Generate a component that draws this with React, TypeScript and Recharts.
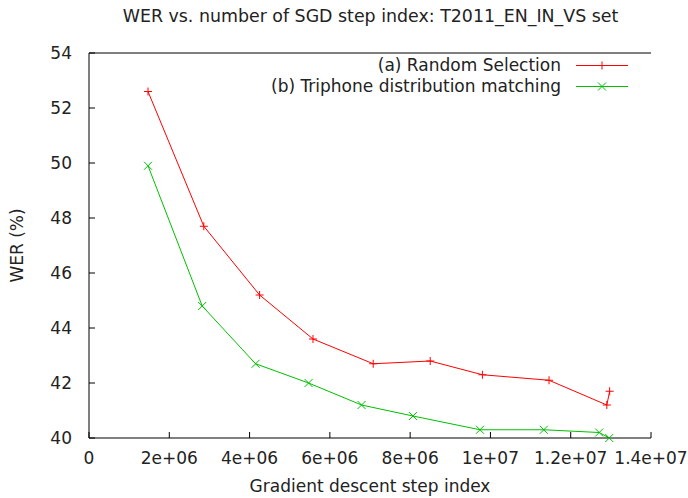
import React from 'react';
import { LineChart, Line, XAxis, YAxis } from 'recharts';

const titleText = 'WER vs. number of SGD step index: T2011_EN_IN_VS set';
const xAxisTitle = 'Gradient descent step index';
const yAxisTitle = 'WER (%)';

const seriesNames = ['(a) Random Selection', '(b) Triphone distribution matching'];
const seriesColors = ['#ff0000', '#00c000'];

const randomSteps = [1.47e6, 2.86e6, 4.25e6, 5.58e6, 7.08e6, 8.5e6, 9.8e6, 11.46e6, 12.9e6, 12.97e6];
const randomWer = [52.6, 47.7, 45.2, 43.6, 42.7, 42.8, 42.3, 42.1, 41.2, 41.7];

const triphoneSteps = [1.47e6, 2.82e6, 4.15e6, 5.47e6, 6.79e6, 8.07e6, 9.74e6, 11.33e6, 12.71e6, 12.96e6];
const triphoneWer = [49.9, 44.8, 42.7, 42.0, 41.2, 40.8, 40.3, 40.3, 40.2, 40.0];

const xTicks = [0, 2e6, 4e6, 6e6, 8e6, 1e7, 1.2e7, 1.4e7];
const xTickLabels = ['0', '2e+06', '4e+06', '6e+06', '8e+06', '1e+07', '1.2e+07', '1.4e+07'];
const yTicks = [40, 42, 44, 46, 48, 50, 52, 54];

const randomData = randomSteps.map((x, i) => ({ x, y: randomWer[i] }));
const triphoneData = triphoneSteps.map((x, i) => ({ x, y: triphoneWer[i] }));

const FONT = '"DejaVu Sans", sans-serif';
const TEXT = '#222';
const FS = 17;
const TICK_LEN = 6;
const X_MARGIN = 14;
const Y_MARGIN = 17;

const PlusDot = (props: any) => {
  const { cx, cy, stroke } = props;
  if (cx == null || cy == null) return null;
  const s = 4;
  return (
    <path d={`M${cx - s},${cy}H${cx + s}M${cx},${cy - s}V${cy + s}`} stroke={stroke} strokeWidth={1} fill="none" />
  );
};

const CrossDot = (props: any) => {
  const { cx, cy, stroke } = props;
  if (cx == null || cy == null) return null;
  const s = 4;
  return (
    <path
      d={`M${cx - s},${cy - s}L${cx + s},${cy + s}M${cx - s},${cy + s}L${cx + s},${cy - s}`}
      stroke={stroke}
      strokeWidth={1}
      fill="none"
    />
  );
};

const BottomTick = (props: any) => {
  const { x, y, payload } = props;
  const axisY = y - X_MARGIN;
  const idx = xTicks.indexOf(payload.value);
  return (
    <g>
      <line x1={x} x2={x} y1={axisY} y2={axisY - TICK_LEN} stroke="#000" />
      <text x={x} y={y} dy="0.72em" textAnchor="middle" fill={TEXT} fontSize={FS} fontFamily={FONT}>
        {idx >= 0 ? xTickLabels[idx] : String(payload.value)}
      </text>
    </g>
  );
};

const TopTick = (props: any) => {
  const { x, y } = props;
  return <line x1={x} x2={x} y1={y} y2={y + TICK_LEN} stroke="#000" />;
};

const LeftTick = (props: any) => {
  const { x, y, payload } = props;
  const axisX = x + Y_MARGIN;
  return (
    <g>
      <line x1={axisX} x2={axisX + TICK_LEN} y1={y} y2={y} stroke="#000" />
      <text x={x} y={y} dy="0.36em" textAnchor="end" fill={TEXT} fontSize={FS} fontFamily={FONT}>
        {String(payload.value)}
      </text>
    </g>
  );
};

const RightTick = (props: any) => {
  const { x, y } = props;
  return <line x1={x} x2={x - TICK_LEN} y1={y} y2={y} stroke="#000" />;
};

const LegendRow = ({ name, color, marker, top }: any) => (
  <div style={{ position: 'absolute', top, left: 0, width: 640, height: 20 }}>
    <div
      style={{
        position: 'absolute',
        right: 640 - 561,
        top: 0,
        lineHeight: '20px',
        fontFamily: FONT,
        fontSize: FS,
        color: TEXT,
        whiteSpace: 'nowrap',
      }}
    >
      {name}
    </div>
    <svg style={{ position: 'absolute', left: 574, top: 0 }} width={58} height={20}>
      <line x1={2} x2={54} y1={10.5} y2={10.5} stroke={color} strokeWidth={1} />
      {marker === 'plus' ? (
        <path d="M24,10.5H32M28,6.5V14.5" stroke={color} strokeWidth={1} fill="none" />
      ) : (
        <path d="M24,6.5L32,14.5M24,14.5L32,6.5" stroke={color} strokeWidth={1} fill="none" />
      )}
    </svg>
  </div>
);

export default function App() {
  return (
    <div style={{ position: 'absolute', left: 0, top: 0, width: 688, height: 498, background: '#fff' }}>
      <div
        style={{
          position: 'absolute',
          left: 89,
          width: 563,
          top: 6,
          textAlign: 'center',
          fontFamily: FONT,
          fontSize: 17.4,
          color: TEXT,
          whiteSpace: 'nowrap',
        }}
      >
        {titleText}
      </div>
      <LineChart
        width={688}
        height={498}
        margin={{ top: 52, right: 37, bottom: 0, left: 0 }}
        style={{ fontFamily: FONT }}
      >
        <XAxis
          xAxisId="bottom"
          type="number"
          dataKey="x"
          domain={[0, 1.4e7]}
          ticks={xTicks}
          interval={0}
          height={60}
          tickSize={0}
          tickMargin={X_MARGIN}
          axisLine={{ stroke: '#000' }}
          tickLine={false}
          tick={<BottomTick />}
          label={{ value: xAxisTitle, position: 'insideBottom', offset: 6, fill: TEXT, fontSize: FS, fontFamily: FONT }}
        />
        <XAxis
          xAxisId="top"
          orientation="top"
          type="number"
          dataKey="x"
          domain={[0, 1.4e7]}
          ticks={xTicks}
          interval={0}
          height={1}
          tickSize={0}
          tickMargin={0}
          tick={<TopTick />}
          axisLine={{ stroke: '#000' }}
          tickLine={false}
        />
        <YAxis
          yAxisId="left"
          type="number"
          domain={[40, 54]}
          ticks={yTicks}
          interval={0}
          width={89}
          tickSize={0}
          tickMargin={Y_MARGIN}
          axisLine={{ stroke: '#000' }}
          tickLine={false}
          tick={<LeftTick />}
          label={{
            value: yAxisTitle,
            angle: -90,
            position: 'insideLeft',
            offset: 17,
            fill: TEXT,
            fontSize: FS,
            fontFamily: FONT,
            style: { textAnchor: 'middle' },
          }}
        />
        <YAxis
          yAxisId="right"
          orientation="right"
          type="number"
          domain={[40, 54]}
          ticks={yTicks}
          interval={0}
          width={0}
          tickSize={0}
          tickMargin={0}
          tick={<RightTick />}
          axisLine={{ stroke: '#000' }}
          tickLine={false}
        />
        <Line
          xAxisId="bottom"
          yAxisId="left"
          data={randomData}
          dataKey="y"
          name={seriesNames[0]}
          stroke={seriesColors[0]}
          strokeWidth={1}
          dot={<PlusDot />}
          activeDot={false}
          isAnimationActive={false}
        />
        <Line
          xAxisId="bottom"
          yAxisId="left"
          data={triphoneData}
          dataKey="y"
          name={seriesNames[1]}
          stroke={seriesColors[1]}
          strokeWidth={1}
          dot={<CrossDot />}
          activeDot={false}
          isAnimationActive={false}
        />
      </LineChart>
      <LegendRow name={seriesNames[0]} color={seriesColors[0]} marker="plus" top={55} />
      <LegendRow name={seriesNames[1]} color={seriesColors[1]} marker="cross" top={76} />
    </div>
  );
}
